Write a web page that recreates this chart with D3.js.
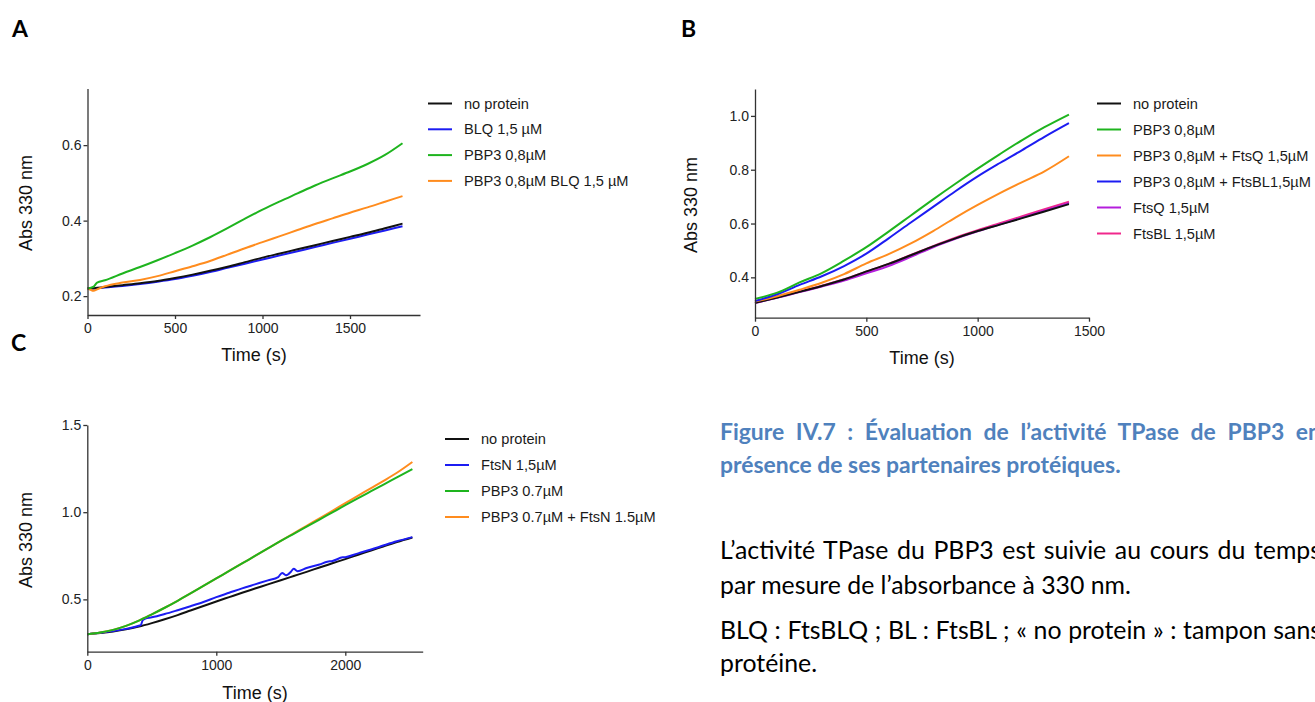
<!DOCTYPE html>
<html>
<head>
<meta charset="utf-8">
<script src="https://cdn.jsdelivr.net/npm/d3@7"></script>
<style>
  body { margin: 0; background: #fff; }
  svg { display: block; }
</style>
</head>
<body>
<svg id="fig" width="1315" height="702"></svg>
<script>
// ---------- Panel A: absorbance at 330 nm vs time ----------
const timeA = [0, 35, 55, 100, 200, 300, 400, 500, 600, 700, 800, 900, 1000, 1100, 1200, 1300, 1400, 1500, 1600, 1700, 1800];
const aNoProtein = [0.220, 0.221, 0.222, 0.224, 0.229, 0.234, 0.240, 0.248, 0.257, 0.267, 0.278, 0.290, 0.302, 0.313, 0.324, 0.335, 0.346, 0.357, 0.368, 0.380, 0.392];
const aBLQ       = [0.220, 0.220, 0.221, 0.223, 0.227, 0.232, 0.238, 0.245, 0.254, 0.264, 0.275, 0.286, 0.297, 0.308, 0.319, 0.330, 0.341, 0.352, 0.363, 0.374, 0.385];
const aPBP3      = [0.220, 0.225, 0.236, 0.242, 0.260, 0.277, 0.295, 0.314, 0.334, 0.356, 0.380, 0.405, 0.429, 0.451, 0.472, 0.493, 0.512, 0.530, 0.550, 0.574, 0.605];
const aPBP3BLQ   = [0.221, 0.214, 0.218, 0.226, 0.236, 0.243, 0.253, 0.266, 0.279, 0.293, 0.310, 0.327, 0.343, 0.359, 0.375, 0.391, 0.406, 0.421, 0.435, 0.450, 0.465];
const aXTicks = [0, 500, 1000, 1500];
const aYTicks = [0.2, 0.4, 0.6];

// ---------- Panel B ----------
const timeB = [0, 100, 200, 300, 400, 500, 600, 700, 800, 900, 1000, 1100, 1200, 1300, 1410];
const bNoProtein = [0.305, 0.325, 0.346, 0.368, 0.392, 0.422, 0.450, 0.482, 0.515, 0.545, 0.572, 0.596, 0.620, 0.645, 0.672];
const bPBP3      = [0.320, 0.343, 0.381, 0.416, 0.462, 0.512, 0.570, 0.630, 0.690, 0.748, 0.804, 0.858, 0.910, 0.958, 1.005];
const bPBP3FtsQ  = [0.310, 0.330, 0.354, 0.380, 0.412, 0.452, 0.486, 0.526, 0.572, 0.622, 0.669, 0.713, 0.754, 0.794, 0.850];
const bPBP3FtsBL = [0.312, 0.337, 0.372, 0.404, 0.442, 0.488, 0.545, 0.604, 0.662, 0.720, 0.775, 0.825, 0.873, 0.922, 0.973];
const bFtsQ      = [0.305, 0.324, 0.345, 0.366, 0.388, 0.415, 0.442, 0.476, 0.512, 0.543, 0.571, 0.597, 0.622, 0.648, 0.676];
const bFtsBL     = [0.306, 0.326, 0.347, 0.369, 0.393, 0.421, 0.450, 0.483, 0.516, 0.547, 0.575, 0.601, 0.627, 0.653, 0.681];
const bXTicks = [0, 500, 1000, 1500];
const bYTicks = [0.4, 0.6, 0.8, 1.0];

// ---------- Panel C ----------
const timeC = [0, 100, 200, 300, 400, 500, 600, 700, 800, 900, 1000, 1100, 1200, 1300, 1400, 1500, 1600, 1700, 1800, 1900, 2000, 2100, 2200, 2300, 2400, 2520];
const cNoProtein = [0.300, 0.307, 0.316, 0.328, 0.344, 0.364, 0.386, 0.410, 0.436, 0.462, 0.488, 0.513, 0.538, 0.562, 0.586, 0.610, 0.634, 0.658, 0.683, 0.707, 0.731, 0.756, 0.780, 0.805, 0.829, 0.855];
const cPBP3      = [0.300, 0.310, 0.325, 0.348, 0.378, 0.414, 0.452, 0.492, 0.534, 0.577, 0.620, 0.663, 0.706, 0.749, 0.792, 0.835, 0.876, 0.917, 0.958, 0.999, 1.040, 1.080, 1.121, 1.160, 1.200, 1.247];
const cPBP3FtsN  = [0.300, 0.310, 0.325, 0.348, 0.378, 0.414, 0.452, 0.492, 0.534, 0.577, 0.620, 0.663, 0.706, 0.749, 0.792, 0.836, 0.879, 0.922, 0.965, 1.008, 1.052, 1.095, 1.138, 1.181, 1.226, 1.288];
const timeCFtsN  = [0, 100, 200, 300, 400, 415, 430, 450, 500, 600, 700, 800, 900, 1000, 1100, 1200, 1300, 1400, 1480, 1510, 1540, 1580, 1600, 1630, 1700, 1800, 1860, 1900, 1980, 2000, 2100, 2200, 2300, 2400, 2520];
const cFtsN      = [0.300, 0.308, 0.318, 0.331, 0.349, 0.353, 0.381, 0.390, 0.397, 0.416, 0.438, 0.461, 0.485, 0.513, 0.538, 0.563, 0.586, 0.609, 0.628, 0.652, 0.638, 0.660, 0.676, 0.662, 0.680, 0.700, 0.716, 0.720, 0.741, 0.742, 0.764, 0.786, 0.810, 0.833, 0.857];
const cXTicks = [0, 1000, 2000];
const cYTicks = [0.5, 1.0, 1.5];

// ---------- Colours ----------
const COL = {
  black: "#111111",
  blue: "#1c1cf2",
  green: "#1eb41e",
  orange: "#ff8c1e",
  purple: "#b41edc",
  pink: "#f0288c"
};

const AXIS_FONT = "'Liberation Sans', Arial, Helvetica, sans-serif";
const svg = d3.select("#fig");

function zip(t, v) { return t.map((d, i) => [d, v[i]]); }

function drawPanel(cfg) {
  const g = svg.append("g");
  const x = d3.scaleLinear().domain(cfg.xDomain).range([cfg.left, cfg.right]);
  const y = d3.scaleLinear().domain(cfg.yDomain).range([cfg.bottom, cfg.top]);

  // series (drawn in the given stacking order)
  const line = d3.line().x(d => x(d[0])).y(d => y(d[1])).curve(d3.curveMonotoneX);
  cfg.drawOrder.forEach(s => {
    g.append("path")
      .datum(zip(s.t, s.v))
      .attr("d", line)
      .attr("fill", "none")
      .attr("stroke", s.color)
      .attr("stroke-width", 2)
      .attr("stroke-linejoin", "round");
  });

  // axes
  const xa = g.append("g").attr("transform", `translate(0,${cfg.bottom})`)
    .call(d3.axisBottom(x).tickValues(cfg.xTicks).tickFormat(d3.format("d")).tickSize(4).tickSizeOuter(0).tickPadding(4));
  const ya = g.append("g").attr("transform", `translate(${cfg.left},0)`)
    .call(d3.axisLeft(y).tickValues(cfg.yTicks).tickFormat(d3.format(".1f")).tickSize(4).tickSizeOuter(0).tickPadding(2));
  [xa, ya].forEach(a => {
    a.attr("font-family", AXIS_FONT).attr("font-size", 14);
    a.select(".domain").attr("stroke", "#333").attr("stroke-width", 1.3);
    a.selectAll(".tick line").attr("stroke", "#333").attr("stroke-width", 1.3);
    a.selectAll(".tick text").attr("fill", "#222");
  });

  // axis titles
  g.append("text")
    .attr("x", cfg.xTitle[0]).attr("y", cfg.xTitle[1])
    .attr("text-anchor", "middle")
    .attr("font-family", AXIS_FONT).attr("font-size", 18).attr("fill", "#111")
    .text("Time (s)");
  g.append("text")
    .attr("transform", `translate(${cfg.yTitle[0]},${cfg.yTitle[1]}) rotate(-90)`)
    .attr("text-anchor", "middle").attr("dy", "0.35em")
    .attr("font-family", AXIS_FONT).attr("font-size", 18).attr("fill", "#111")
    .text("Abs 330 nm");

  // legend
  const lg = g.append("g");
  cfg.legend.forEach((s, i) => {
    const ly = cfg.legendY + i * cfg.legendStep;
    lg.append("line")
      .attr("x1", cfg.legendX).attr("x2", cfg.legendX + 24)
      .attr("y1", ly).attr("y2", ly)
      .attr("stroke", s.color).attr("stroke-width", 2);
    lg.append("text")
      .attr("x", cfg.legendX + 36).attr("y", ly).attr("dy", "0.35em")
      .attr("font-family", AXIS_FONT).attr("font-size", 14.6).attr("fill", "#1a1a1a")
      .text(s.name);
  });
}

// Panel A
{
  const s = {
    none: { name: "no protein", t: timeA, v: aNoProtein, color: COL.black },
    blq: { name: "BLQ 1,5 µM", t: timeA, v: aBLQ, color: COL.blue },
    pbp3: { name: "PBP3 0,8µM", t: timeA, v: aPBP3, color: COL.green },
    mix: { name: "PBP3 0,8µM BLQ 1,5 µM", t: timeA, v: aPBP3BLQ, color: COL.orange }
  };
  drawPanel({
    xDomain: [0, 1900], yDomain: [0.15, 0.75],
    left: 87.5, right: 420, top: 88.5, bottom: 315,
    xTicks: aXTicks, yTicks: aYTicks,
    xTitle: [254, 361], yTitle: [26, 203],
    drawOrder: [s.blq, s.none, s.mix, s.pbp3],
    legend: [s.none, s.blq, s.pbp3, s.mix],
    legendX: 428, legendY: 103.5, legendStep: 25.8
  });
}

// Panel B
{
  const s = {
    none: { name: "no protein", t: timeB, v: bNoProtein, color: COL.black },
    pbp3: { name: "PBP3 0,8µM", t: timeB, v: bPBP3, color: COL.green },
    q: { name: "PBP3 0,8µM + FtsQ 1,5µM", t: timeB, v: bPBP3FtsQ, color: COL.orange },
    bl: { name: "PBP3 0,8µM + FtsBL1,5µM", t: timeB, v: bPBP3FtsBL, color: COL.blue },
    ftsq: { name: "FtsQ 1,5µM", t: timeB, v: bFtsQ, color: COL.purple },
    ftsbl: { name: "FtsBL 1,5µM", t: timeB, v: bFtsBL, color: COL.pink }
  };
  drawPanel({
    xDomain: [0, 1500], yDomain: [0.25, 1.1],
    left: 755, right: 1089, top: 89, bottom: 317.7,
    xTicks: bXTicks, yTicks: bYTicks,
    xTitle: [922, 364], yTitle: [691, 205],
    drawOrder: [s.ftsbl, s.ftsq, s.none, s.q, s.bl, s.pbp3],
    legend: [s.none, s.pbp3, s.q, s.bl, s.ftsq, s.ftsbl],
    legendX: 1097, legendY: 103.5, legendStep: 26
  });
}

// Panel C
{
  const s = {
    none: { name: "no protein", t: timeC, v: cNoProtein, color: COL.black },
    ftsn: { name: "FtsN 1,5µM", t: timeCFtsN, v: cFtsN, color: COL.blue },
    pbp3: { name: "PBP3 0.7µM", t: timeC, v: cPBP3, color: COL.green },
    mix: { name: "PBP3 0.7µM + FtsN 1.5µM", t: timeC, v: cPBP3FtsN, color: COL.orange }
  };
  drawPanel({
    xDomain: [0, 2600], yDomain: [0.2, 1.5],
    left: 87.3, right: 422.7, top: 425, bottom: 651.7,
    xTicks: cXTicks, yTicks: cYTicks,
    xTitle: [255, 699], yTitle: [26, 540],
    drawOrder: [s.none, s.ftsn, s.mix, s.pbp3],
    legend: [s.none, s.ftsn, s.pbp3, s.mix],
    legendX: 445, legendY: 439, legendStep: 26
  });
}

// Panel letters
[["A", 12, 37], ["B", 681, 37], ["C", 11, 351]].forEach(([l, px, py]) => {
  svg.append("text").attr("x", px).attr("y", py)
    .attr("font-family", "Lato, 'Liberation Sans', Arial, sans-serif")
    .attr("font-weight", 700).attr("font-size", 23).attr("fill", "#000")
    .text(l);
});

// ---------- Caption ----------
const CAPTION_FONT = "Lato, 'Open Sans', sans-serif";
const captionTitle = [
  "Figure IV.7 : Évaluation de l’activité TPase de PBP3 en",
  "présence de ses partenaires protéiques."
];
const captionBody = [
  "L’activité TPase du PBP3 est suivie au cours du temps",
  "par mesure de l’absorbance à 330 nm.",
  "BLQ : FtsBLQ ; BL : FtsBL ; « no protein » : tampon sans",
  "protéine."
];

function measure(text, weight, size) {
  const t = svg.append("text").attr("font-family", CAPTION_FONT)
    .attr("font-weight", weight).attr("font-size", size).text(text);
  const w = t.node().getComputedTextLength();
  t.remove();
  return w;
}

const capLeft = 720, capRight = 1321;
const titleSize = 100 * 401 / measure(captionTitle[1], 700, 100);
const bodySize = 100 * 411 / measure(captionBody[1], 400, 100);

function captionLine(text, y, weight, size, color, justify) {
  const t = svg.append("text").attr("x", capLeft).attr("y", y)
    .attr("font-family", CAPTION_FONT).attr("font-weight", weight)
    .attr("font-size", size).attr("fill", color).text(text);
  if (justify) {
    const natural = t.node().getComputedTextLength();
    const gaps = (text.match(/ /g) || []).length;
    t.style("word-spacing", ((capRight - capLeft - natural) / gaps) + "px");
  }
}

captionLine(captionTitle[0], 440, 700, titleSize, "#4f81bd", true);
captionLine(captionTitle[1], 473, 700, titleSize, "#4f81bd", false);
captionLine(captionBody[0], 559, 400, bodySize, "#000", true);
captionLine(captionBody[1], 594, 400, bodySize, "#000", false);
captionLine(captionBody[2], 639, 400, bodySize, "#000", true);
captionLine(captionBody[3], 672, 400, bodySize, "#000", false);
</script>
</body>
</html>
